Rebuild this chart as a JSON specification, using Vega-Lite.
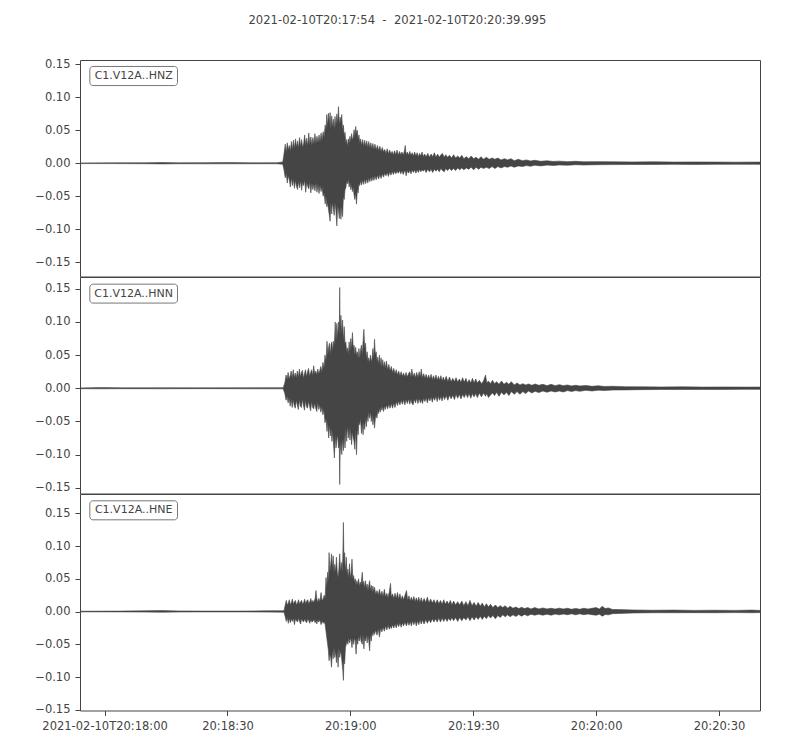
{
  "$schema": "https://vega.github.io/schema/vega-lite/v6.json",
  "padding": {"top": 15, "left": 34, "right": 40, "bottom": 10},
  "bounds": "flush",
  "title": {
    "text": "2021-02-10T20:17:54 \u00a0-\u00a0 2021-02-10T20:20:39.995",
    "font": "DejaVu Sans",
    "fontSize": 11.6,
    "fontWeight": "normal",
    "color": "#444444",
    "anchor": "middle",
    "offset": 31
  },
  "datasets": {
    "hnz": [
      {"s": 0, "hi": 0.0005, "lo": -0.0005}, {"s": 8, "hi": 0.0007, "lo": -0.0005}, {"s": 16, "hi": 0.0008, "lo": -0.0007},
      {"s": 20, "hi": 0.0012, "lo": -0.001}, {"s": 24, "hi": 0.0007, "lo": -0.0007}, {"s": 30, "hi": 0.0009, "lo": -0.0008},
      {"s": 36, "hi": 0.0012, "lo": -0.0008}, {"s": 42, "hi": 0.0007, "lo": -0.0007}, {"s": 48, "hi": 0.0008, "lo": -0.0007},
      {"s": 49.5, "hi": 0.002, "lo": -0.0015}, {"s": 49.8, "hi": 0.014, "lo": -0.01}, {"s": 50.1, "hi": 0.029, "lo": -0.022},
      {"s": 50.35, "hi": 0.016, "lo": -0.015}, {"s": 50.6, "hi": 0.031, "lo": -0.03}, {"s": 50.85, "hi": 0.02, "lo": -0.019},
      {"s": 51.1, "hi": 0.027, "lo": -0.025}, {"s": 51.35, "hi": 0.018, "lo": -0.036}, {"s": 51.6, "hi": 0.033, "lo": -0.022},
      {"s": 51.85, "hi": 0.021, "lo": -0.034}, {"s": 52.1, "hi": 0.035, "lo": -0.024}, {"s": 52.35, "hi": 0.022, "lo": -0.038},
      {"s": 52.6, "hi": 0.037, "lo": -0.026}, {"s": 52.85, "hi": 0.024, "lo": -0.035}, {"s": 53.1, "hi": 0.034, "lo": -0.04},
      {"s": 53.35, "hi": 0.023, "lo": -0.027}, {"s": 53.6, "hi": 0.039, "lo": -0.037}, {"s": 53.85, "hi": 0.025, "lo": -0.026},
      {"s": 54.1, "hi": 0.036, "lo": -0.041}, {"s": 54.35, "hi": 0.024, "lo": -0.028}, {"s": 54.6, "hi": 0.03, "lo": -0.034},
      {"s": 54.85, "hi": 0.043, "lo": -0.025}, {"s": 55.1, "hi": 0.027, "lo": -0.044}, {"s": 55.35, "hi": 0.038, "lo": -0.029},
      {"s": 55.6, "hi": 0.026, "lo": -0.035}, {"s": 55.85, "hi": 0.046, "lo": -0.039}, {"s": 56.1, "hi": 0.028, "lo": -0.028},
      {"s": 56.35, "hi": 0.04, "lo": -0.045}, {"s": 56.6, "hi": 0.027, "lo": -0.03}, {"s": 56.85, "hi": 0.039, "lo": -0.04},
      {"s": 57.1, "hi": 0.029, "lo": -0.031}, {"s": 57.35, "hi": 0.045, "lo": -0.042}, {"s": 57.6, "hi": 0.03, "lo": -0.029},
      {"s": 57.85, "hi": 0.041, "lo": -0.044}, {"s": 58.1, "hi": 0.031, "lo": -0.032}, {"s": 58.35, "hi": 0.043, "lo": -0.046},
      {"s": 58.6, "hi": 0.032, "lo": -0.033}, {"s": 58.85, "hi": 0.046, "lo": -0.043}, {"s": 59.1, "hi": 0.035, "lo": -0.036},
      {"s": 59.35, "hi": 0.048, "lo": -0.05}, {"s": 59.6, "hi": 0.04, "lo": -0.045}, {"s": 59.85, "hi": 0.058, "lo": -0.062},
      {"s": 60.05, "hi": 0.05, "lo": -0.05}, {"s": 60.25, "hi": 0.074, "lo": -0.066}, {"s": 60.45, "hi": 0.055, "lo": -0.06},
      {"s": 60.65, "hi": 0.076, "lo": -0.07}, {"s": 60.85, "hi": 0.06, "lo": -0.078}, {"s": 61.05, "hi": 0.077, "lo": -0.088},
      {"s": 61.25, "hi": 0.052, "lo": -0.06}, {"s": 61.45, "hi": 0.072, "lo": -0.077}, {"s": 61.65, "hi": 0.055, "lo": -0.058},
      {"s": 61.85, "hi": 0.067, "lo": -0.07}, {"s": 62.05, "hi": 0.05, "lo": -0.079}, {"s": 62.25, "hi": 0.071, "lo": -0.06},
      {"s": 62.45, "hi": 0.055, "lo": -0.07}, {"s": 62.7, "hi": 0.075, "lo": -0.095}, {"s": 62.9, "hi": 0.06, "lo": -0.064},
      {"s": 63.1, "hi": 0.086, "lo": -0.072}, {"s": 63.3, "hi": 0.058, "lo": -0.084}, {"s": 63.5, "hi": 0.07, "lo": -0.066},
      {"s": 63.7, "hi": 0.062, "lo": -0.085}, {"s": 63.9, "hi": 0.074, "lo": -0.065}, {"s": 64.1, "hi": 0.05, "lo": -0.081},
      {"s": 64.3, "hi": 0.058, "lo": -0.05}, {"s": 64.5, "hi": 0.04, "lo": -0.055}, {"s": 64.7, "hi": 0.047, "lo": -0.04},
      {"s": 64.9, "hi": 0.03, "lo": -0.037}, {"s": 65.1, "hi": 0.036, "lo": -0.027}, {"s": 65.3, "hi": 0.025, "lo": -0.031},
      {"s": 65.5, "hi": 0.037, "lo": -0.024}, {"s": 65.7, "hi": 0.03, "lo": -0.036}, {"s": 65.9, "hi": 0.041, "lo": -0.028},
      {"s": 66.1, "hi": 0.032, "lo": -0.04}, {"s": 66.3, "hi": 0.045, "lo": -0.033}, {"s": 66.5, "hi": 0.035, "lo": -0.043},
      {"s": 66.7, "hi": 0.04, "lo": -0.036}, {"s": 66.9, "hi": 0.051, "lo": -0.048}, {"s": 67.1, "hi": 0.04, "lo": -0.055},
      {"s": 67.3, "hi": 0.056, "lo": -0.045}, {"s": 67.5, "hi": 0.045, "lo": -0.062}, {"s": 67.7, "hi": 0.05, "lo": -0.04},
      {"s": 67.9, "hi": 0.036, "lo": -0.045}, {"s": 68.1, "hi": 0.043, "lo": -0.03}, {"s": 68.3, "hi": 0.03, "lo": -0.034},
      {"s": 68.5, "hi": 0.037, "lo": -0.026}, {"s": 68.75, "hi": 0.027, "lo": -0.033}, {"s": 69.0, "hi": 0.036, "lo": -0.025},
      {"s": 69.25, "hi": 0.026, "lo": -0.032}, {"s": 69.5, "hi": 0.035, "lo": -0.024}, {"s": 69.75, "hi": 0.025, "lo": -0.031},
      {"s": 70.0, "hi": 0.034, "lo": -0.023}, {"s": 70.25, "hi": 0.024, "lo": -0.03}, {"s": 70.5, "hi": 0.033, "lo": -0.022},
      {"s": 70.75, "hi": 0.023, "lo": -0.028}, {"s": 71.0, "hi": 0.031, "lo": -0.021}, {"s": 71.25, "hi": 0.022, "lo": -0.027},
      {"s": 71.5, "hi": 0.03, "lo": -0.02}, {"s": 71.75, "hi": 0.021, "lo": -0.026}, {"s": 72.0, "hi": 0.029, "lo": -0.019},
      {"s": 72.3, "hi": 0.02, "lo": -0.025}, {"s": 72.6, "hi": 0.027, "lo": -0.018}, {"s": 72.9, "hi": 0.019, "lo": -0.024},
      {"s": 73.2, "hi": 0.026, "lo": -0.017}, {"s": 73.5, "hi": 0.018, "lo": -0.023}, {"s": 73.8, "hi": 0.024, "lo": -0.016},
      {"s": 74.1, "hi": 0.017, "lo": -0.021}, {"s": 74.4, "hi": 0.021, "lo": -0.015}, {"s": 74.7, "hi": 0.015, "lo": -0.019},
      {"s": 75.0, "hi": 0.022, "lo": -0.014}, {"s": 75.3, "hi": 0.014, "lo": -0.02}, {"s": 75.6, "hi": 0.02, "lo": -0.013},
      {"s": 75.9, "hi": 0.014, "lo": -0.018}, {"s": 76.2, "hi": 0.018, "lo": -0.012}, {"s": 76.5, "hi": 0.013, "lo": -0.017},
      {"s": 76.8, "hi": 0.019, "lo": -0.012}, {"s": 77.1, "hi": 0.013, "lo": -0.016}, {"s": 77.4, "hi": 0.02, "lo": -0.012},
      {"s": 77.7, "hi": 0.012, "lo": -0.015}, {"s": 78.0, "hi": 0.018, "lo": -0.011}, {"s": 78.3, "hi": 0.013, "lo": -0.016},
      {"s": 78.6, "hi": 0.017, "lo": -0.011}, {"s": 78.9, "hi": 0.012, "lo": -0.017}, {"s": 79.2, "hi": 0.019, "lo": -0.012},
      {"s": 79.4, "hi": 0.027, "lo": -0.011}, {"s": 79.6, "hi": 0.013, "lo": -0.019}, {"s": 79.9, "hi": 0.017, "lo": -0.011},
      {"s": 80.2, "hi": 0.012, "lo": -0.015}, {"s": 80.5, "hi": 0.018, "lo": -0.011}, {"s": 80.8, "hi": 0.012, "lo": -0.016},
      {"s": 81.1, "hi": 0.016, "lo": -0.01}, {"s": 81.4, "hi": 0.011, "lo": -0.014}, {"s": 81.7, "hi": 0.017, "lo": -0.01},
      {"s": 82.0, "hi": 0.011, "lo": -0.015}, {"s": 82.3, "hi": 0.016, "lo": -0.01}, {"s": 82.6, "hi": 0.01, "lo": -0.014},
      {"s": 82.9, "hi": 0.015, "lo": -0.009}, {"s": 83.2, "hi": 0.011, "lo": -0.013}, {"s": 83.5, "hi": 0.017, "lo": -0.01},
      {"s": 83.8, "hi": 0.01, "lo": -0.012}, {"s": 84.1, "hi": 0.014, "lo": -0.009}, {"s": 84.5, "hi": 0.01, "lo": -0.014},
      {"s": 84.9, "hi": 0.015, "lo": -0.009}, {"s": 85.3, "hi": 0.009, "lo": -0.013}, {"s": 85.7, "hi": 0.014, "lo": -0.009},
      {"s": 86.1, "hi": 0.01, "lo": -0.014}, {"s": 86.5, "hi": 0.016, "lo": -0.009}, {"s": 86.9, "hi": 0.009, "lo": -0.012},
      {"s": 87.3, "hi": 0.014, "lo": -0.009}, {"s": 87.7, "hi": 0.009, "lo": -0.013}, {"s": 88.1, "hi": 0.013, "lo": -0.008},
      {"s": 88.5, "hi": 0.015, "lo": -0.011}, {"s": 88.9, "hi": 0.009, "lo": -0.013}, {"s": 89.3, "hi": 0.013, "lo": -0.008},
      {"s": 89.7, "hi": 0.009, "lo": -0.011}, {"s": 90.2, "hi": 0.012, "lo": -0.008}, {"s": 90.7, "hi": 0.008, "lo": -0.011},
      {"s": 91.2, "hi": 0.013, "lo": -0.008}, {"s": 91.7, "hi": 0.008, "lo": -0.011}, {"s": 92.2, "hi": 0.011, "lo": -0.007},
      {"s": 92.7, "hi": 0.008, "lo": -0.01}, {"s": 93.2, "hi": 0.012, "lo": -0.007}, {"s": 93.7, "hi": 0.007, "lo": -0.01},
      {"s": 94.3, "hi": 0.01, "lo": -0.007}, {"s": 94.9, "hi": 0.007, "lo": -0.009}, {"s": 95.5, "hi": 0.011, "lo": -0.006},
      {"s": 96.1, "hi": 0.007, "lo": -0.01}, {"s": 96.7, "hi": 0.009, "lo": -0.006}, {"s": 97.3, "hi": 0.006, "lo": -0.009},
      {"s": 97.9, "hi": 0.01, "lo": -0.006}, {"s": 98.5, "hi": 0.006, "lo": -0.008}, {"s": 99.2, "hi": 0.009, "lo": -0.006},
      {"s": 99.9, "hi": 0.006, "lo": -0.008}, {"s": 100.6, "hi": 0.008, "lo": -0.005}, {"s": 101.3, "hi": 0.006, "lo": -0.008},
      {"s": 102, "hi": 0.008, "lo": -0.005}, {"s": 102.8, "hi": 0.005, "lo": -0.007}, {"s": 103.6, "hi": 0.007, "lo": -0.005},
      {"s": 104.4, "hi": 0.005, "lo": -0.006}, {"s": 105.2, "hi": 0.007, "lo": -0.004}, {"s": 106, "hi": 0.004, "lo": -0.006},
      {"s": 107, "hi": 0.006, "lo": -0.004}, {"s": 108, "hi": 0.004, "lo": -0.005}, {"s": 109, "hi": 0.005, "lo": -0.0035},
      {"s": 110, "hi": 0.0035, "lo": -0.0045}, {"s": 111, "hi": 0.0045, "lo": -0.003}, {"s": 112.5, "hi": 0.003, "lo": -0.004},
      {"s": 114, "hi": 0.0038, "lo": -0.0028}, {"s": 115.5, "hi": 0.0028, "lo": -0.0034}, {"s": 117, "hi": 0.0032, "lo": -0.0025},
      {"s": 119, "hi": 0.0025, "lo": -0.003}, {"s": 121, "hi": 0.003, "lo": -0.0022}, {"s": 123, "hi": 0.0022, "lo": -0.0026},
      {"s": 126, "hi": 0.0025, "lo": -0.0022}, {"s": 130, "hi": 0.0022, "lo": -0.002}, {"s": 135, "hi": 0.002, "lo": -0.0018},
      {"s": 140, "hi": 0.0022, "lo": -0.0018}, {"s": 145, "hi": 0.0018, "lo": -0.0016}, {"s": 150, "hi": 0.002, "lo": -0.0018},
      {"s": 155, "hi": 0.0018, "lo": -0.0016}, {"s": 160, "hi": 0.0017, "lo": -0.0015}, {"s": 166, "hi": 0.0018, "lo": -0.0016}
    ],
    "hnn": [
      {"s": 0, "hi": 0.0005, "lo": -0.0005}, {"s": 5, "hi": 0.0012, "lo": -0.0008}, {"s": 10, "hi": 0.0007, "lo": -0.0006},
      {"s": 20, "hi": 0.0008, "lo": -0.0007}, {"s": 30, "hi": 0.0007, "lo": -0.0005}, {"s": 40, "hi": 0.0008, "lo": -0.0007},
      {"s": 49.6, "hi": 0.001, "lo": -0.0008}, {"s": 50.0, "hi": 0.008, "lo": -0.008}, {"s": 50.3, "hi": 0.02, "lo": -0.018},
      {"s": 50.55, "hi": 0.013, "lo": -0.012}, {"s": 50.8, "hi": 0.024, "lo": -0.022}, {"s": 51.05, "hi": 0.014, "lo": -0.014},
      {"s": 51.3, "hi": 0.019, "lo": -0.027}, {"s": 51.55, "hi": 0.026, "lo": -0.016}, {"s": 51.8, "hi": 0.015, "lo": -0.029},
      {"s": 52.05, "hi": 0.028, "lo": -0.017}, {"s": 52.3, "hi": 0.016, "lo": -0.026}, {"s": 52.55, "hi": 0.023, "lo": -0.03},
      {"s": 52.8, "hi": 0.015, "lo": -0.018}, {"s": 53.05, "hi": 0.026, "lo": -0.025}, {"s": 53.3, "hi": 0.016, "lo": -0.032},
      {"s": 53.55, "hi": 0.029, "lo": -0.017}, {"s": 53.8, "hi": 0.017, "lo": -0.027}, {"s": 54.05, "hi": 0.024, "lo": -0.029},
      {"s": 54.3, "hi": 0.027, "lo": -0.016}, {"s": 54.55, "hi": 0.015, "lo": -0.026}, {"s": 54.8, "hi": 0.022, "lo": -0.033},
      {"s": 55.05, "hi": 0.028, "lo": -0.018}, {"s": 55.3, "hi": 0.017, "lo": -0.028}, {"s": 55.55, "hi": 0.025, "lo": -0.03},
      {"s": 55.8, "hi": 0.03, "lo": -0.019}, {"s": 56.05, "hi": 0.018, "lo": -0.027}, {"s": 56.3, "hi": 0.024, "lo": -0.034},
      {"s": 56.55, "hi": 0.028, "lo": -0.02}, {"s": 56.8, "hi": 0.019, "lo": -0.029}, {"s": 57.05, "hi": 0.034, "lo": -0.031},
      {"s": 57.3, "hi": 0.021, "lo": -0.022}, {"s": 57.55, "hi": 0.026, "lo": -0.03}, {"s": 57.8, "hi": 0.02, "lo": -0.035},
      {"s": 58.05, "hi": 0.029, "lo": -0.021}, {"s": 58.3, "hi": 0.022, "lo": -0.032}, {"s": 58.55, "hi": 0.027, "lo": -0.025},
      {"s": 58.8, "hi": 0.033, "lo": -0.036}, {"s": 59.05, "hi": 0.024, "lo": -0.028}, {"s": 59.3, "hi": 0.039, "lo": -0.04},
      {"s": 59.55, "hi": 0.03, "lo": -0.032}, {"s": 59.8, "hi": 0.05, "lo": -0.052}, {"s": 60.05, "hi": 0.04, "lo": -0.045},
      {"s": 60.3, "hi": 0.071, "lo": -0.065}, {"s": 60.5, "hi": 0.05, "lo": -0.05}, {"s": 60.7, "hi": 0.062, "lo": -0.075},
      {"s": 60.9, "hi": 0.068, "lo": -0.055}, {"s": 61.1, "hi": 0.05, "lo": -0.072}, {"s": 61.3, "hi": 0.066, "lo": -0.06},
      {"s": 61.5, "hi": 0.07, "lo": -0.08}, {"s": 61.7, "hi": 0.055, "lo": -0.065}, {"s": 61.9, "hi": 0.071, "lo": -0.086},
      {"s": 62.1, "hi": 0.065, "lo": -0.105}, {"s": 62.3, "hi": 0.1, "lo": -0.07}, {"s": 62.5, "hi": 0.07, "lo": -0.09},
      {"s": 62.7, "hi": 0.098, "lo": -0.078}, {"s": 62.9, "hi": 0.075, "lo": -0.07}, {"s": 63.1, "hi": 0.1, "lo": -0.09},
      {"s": 63.3, "hi": 0.08, "lo": -0.085}, {"s": 63.4, "hi": 0.152, "lo": -0.145}, {"s": 63.5, "hi": 0.09, "lo": -0.1},
      {"s": 63.7, "hi": 0.11, "lo": -0.08}, {"s": 63.9, "hi": 0.08, "lo": -0.1}, {"s": 64.1, "hi": 0.103, "lo": -0.075},
      {"s": 64.3, "hi": 0.07, "lo": -0.094}, {"s": 64.5, "hi": 0.093, "lo": -0.07}, {"s": 64.7, "hi": 0.065, "lo": -0.09},
      {"s": 64.9, "hi": 0.07, "lo": -0.06}, {"s": 65.1, "hi": 0.055, "lo": -0.08}, {"s": 65.3, "hi": 0.061, "lo": -0.055},
      {"s": 65.5, "hi": 0.05, "lo": -0.075}, {"s": 65.7, "hi": 0.07, "lo": -0.06}, {"s": 65.9, "hi": 0.055, "lo": -0.078},
      {"s": 66.1, "hi": 0.075, "lo": -0.06}, {"s": 66.3, "hi": 0.06, "lo": -0.085}, {"s": 66.5, "hi": 0.084, "lo": -0.065},
      {"s": 66.7, "hi": 0.06, "lo": -0.075}, {"s": 66.9, "hi": 0.065, "lo": -0.08}, {"s": 67.1, "hi": 0.05, "lo": -0.092},
      {"s": 67.3, "hi": 0.062, "lo": -0.06}, {"s": 67.5, "hi": 0.05, "lo": -0.1}, {"s": 67.7, "hi": 0.055, "lo": -0.06},
      {"s": 67.9, "hi": 0.045, "lo": -0.07}, {"s": 68.1, "hi": 0.06, "lo": -0.05}, {"s": 68.3, "hi": 0.045, "lo": -0.055},
      {"s": 68.5, "hi": 0.058, "lo": -0.045}, {"s": 68.7, "hi": 0.065, "lo": -0.068}, {"s": 68.9, "hi": 0.05, "lo": -0.052},
      {"s": 69.1, "hi": 0.07, "lo": -0.07}, {"s": 69.3, "hi": 0.089, "lo": -0.05}, {"s": 69.5, "hi": 0.06, "lo": -0.062},
      {"s": 69.7, "hi": 0.068, "lo": -0.045}, {"s": 69.9, "hi": 0.045, "lo": -0.058}, {"s": 70.1, "hi": 0.055, "lo": -0.04},
      {"s": 70.3, "hi": 0.04, "lo": -0.05}, {"s": 70.5, "hi": 0.046, "lo": -0.035}, {"s": 70.7, "hi": 0.038, "lo": -0.045},
      {"s": 70.9, "hi": 0.05, "lo": -0.035}, {"s": 71.1, "hi": 0.04, "lo": -0.05}, {"s": 71.3, "hi": 0.045, "lo": -0.04},
      {"s": 71.5, "hi": 0.06, "lo": -0.055}, {"s": 71.7, "hi": 0.045, "lo": -0.042}, {"s": 71.9, "hi": 0.074, "lo": -0.06},
      {"s": 72.1, "hi": 0.05, "lo": -0.045}, {"s": 72.3, "hi": 0.055, "lo": -0.04}, {"s": 72.5, "hi": 0.04, "lo": -0.045},
      {"s": 72.7, "hi": 0.047, "lo": -0.033}, {"s": 72.9, "hi": 0.035, "lo": -0.038}, {"s": 73.1, "hi": 0.05, "lo": -0.03},
      {"s": 73.3, "hi": 0.034, "lo": -0.036}, {"s": 73.5, "hi": 0.046, "lo": -0.028}, {"s": 73.7, "hi": 0.032, "lo": -0.033},
      {"s": 73.9, "hi": 0.043, "lo": -0.027}, {"s": 74.1, "hi": 0.031, "lo": -0.035}, {"s": 74.3, "hi": 0.04, "lo": -0.026},
      {"s": 74.5, "hi": 0.03, "lo": -0.032}, {"s": 74.8, "hi": 0.041, "lo": -0.025}, {"s": 75.1, "hi": 0.028, "lo": -0.031},
      {"s": 75.4, "hi": 0.036, "lo": -0.024}, {"s": 75.7, "hi": 0.026, "lo": -0.03}, {"s": 76.0, "hi": 0.033, "lo": -0.023},
      {"s": 76.3, "hi": 0.024, "lo": -0.03}, {"s": 76.6, "hi": 0.03, "lo": -0.022}, {"s": 76.9, "hi": 0.022, "lo": -0.029},
      {"s": 77.2, "hi": 0.028, "lo": -0.02}, {"s": 77.5, "hi": 0.02, "lo": -0.026}, {"s": 77.8, "hi": 0.026, "lo": -0.019},
      {"s": 78.1, "hi": 0.019, "lo": -0.025}, {"s": 78.4, "hi": 0.025, "lo": -0.018}, {"s": 78.7, "hi": 0.018, "lo": -0.024},
      {"s": 79.0, "hi": 0.023, "lo": -0.017}, {"s": 79.3, "hi": 0.017, "lo": -0.025}, {"s": 79.6, "hi": 0.024, "lo": -0.017},
      {"s": 79.9, "hi": 0.017, "lo": -0.023}, {"s": 80.2, "hi": 0.022, "lo": -0.016}, {"s": 80.5, "hi": 0.025, "lo": -0.024},
      {"s": 80.8, "hi": 0.017, "lo": -0.016}, {"s": 81.0, "hi": 0.029, "lo": -0.022}, {"s": 81.3, "hi": 0.017, "lo": -0.025},
      {"s": 81.6, "hi": 0.023, "lo": -0.016}, {"s": 81.9, "hi": 0.016, "lo": -0.022}, {"s": 82.2, "hi": 0.024, "lo": -0.015},
      {"s": 82.5, "hi": 0.016, "lo": -0.023}, {"s": 82.8, "hi": 0.025, "lo": -0.015}, {"s": 83.1, "hi": 0.017, "lo": -0.022},
      {"s": 83.3, "hi": 0.029, "lo": -0.016}, {"s": 83.6, "hi": 0.016, "lo": -0.023}, {"s": 83.9, "hi": 0.022, "lo": -0.015},
      {"s": 84.2, "hi": 0.015, "lo": -0.02}, {"s": 84.5, "hi": 0.021, "lo": -0.014}, {"s": 84.8, "hi": 0.014, "lo": -0.022},
      {"s": 85.1, "hi": 0.02, "lo": -0.014}, {"s": 85.4, "hi": 0.014, "lo": -0.019}, {"s": 85.7, "hi": 0.021, "lo": -0.013},
      {"s": 86.0, "hi": 0.013, "lo": -0.021}, {"s": 86.3, "hi": 0.019, "lo": -0.013}, {"s": 86.6, "hi": 0.013, "lo": -0.018},
      {"s": 86.9, "hi": 0.02, "lo": -0.012}, {"s": 87.2, "hi": 0.012, "lo": -0.02}, {"s": 87.5, "hi": 0.018, "lo": -0.012},
      {"s": 87.8, "hi": 0.012, "lo": -0.018}, {"s": 88.1, "hi": 0.019, "lo": -0.012}, {"s": 88.4, "hi": 0.011, "lo": -0.019},
      {"s": 88.7, "hi": 0.017, "lo": -0.011}, {"s": 89.0, "hi": 0.011, "lo": -0.017}, {"s": 89.4, "hi": 0.018, "lo": -0.011},
      {"s": 89.8, "hi": 0.01, "lo": -0.018}, {"s": 90.2, "hi": 0.017, "lo": -0.01}, {"s": 90.6, "hi": 0.01, "lo": -0.016},
      {"s": 91.0, "hi": 0.015, "lo": -0.01}, {"s": 91.4, "hi": 0.01, "lo": -0.017}, {"s": 91.8, "hi": 0.016, "lo": -0.009},
      {"s": 92.2, "hi": 0.009, "lo": -0.015}, {"s": 92.6, "hi": 0.014, "lo": -0.009}, {"s": 93.0, "hi": 0.009, "lo": -0.016},
      {"s": 93.4, "hi": 0.016, "lo": -0.009}, {"s": 93.8, "hi": 0.009, "lo": -0.014}, {"s": 94.2, "hi": 0.015, "lo": -0.008},
      {"s": 94.6, "hi": 0.008, "lo": -0.014}, {"s": 95.0, "hi": 0.013, "lo": -0.008}, {"s": 95.4, "hi": 0.008, "lo": -0.015},
      {"s": 95.8, "hi": 0.015, "lo": -0.008}, {"s": 96.2, "hi": 0.008, "lo": -0.013}, {"s": 96.6, "hi": 0.014, "lo": -0.008},
      {"s": 97.0, "hi": 0.008, "lo": -0.014}, {"s": 97.5, "hi": 0.012, "lo": -0.007}, {"s": 98.0, "hi": 0.007, "lo": -0.013},
      {"s": 98.5, "hi": 0.011, "lo": -0.007}, {"s": 99.0, "hi": 0.02, "lo": -0.012}, {"s": 99.3, "hi": 0.008, "lo": -0.008},
      {"s": 99.7, "hi": 0.011, "lo": -0.014}, {"s": 100.2, "hi": 0.007, "lo": -0.01}, {"s": 100.7, "hi": 0.012, "lo": -0.007},
      {"s": 101.2, "hi": 0.007, "lo": -0.011}, {"s": 101.7, "hi": 0.01, "lo": -0.006}, {"s": 102.3, "hi": 0.006, "lo": -0.012},
      {"s": 102.9, "hi": 0.011, "lo": -0.006}, {"s": 103.5, "hi": 0.006, "lo": -0.01}, {"s": 104.1, "hi": 0.009, "lo": -0.006},
      {"s": 104.7, "hi": 0.006, "lo": -0.011}, {"s": 105.3, "hi": 0.01, "lo": -0.005}, {"s": 106, "hi": 0.005, "lo": -0.009},
      {"s": 106.7, "hi": 0.008, "lo": -0.005}, {"s": 107.4, "hi": 0.005, "lo": -0.009}, {"s": 108.1, "hi": 0.007, "lo": -0.005},
      {"s": 108.8, "hi": 0.005, "lo": -0.008}, {"s": 109.5, "hi": 0.0065, "lo": -0.004}, {"s": 110.3, "hi": 0.0045, "lo": -0.007},
      {"s": 111.1, "hi": 0.0065, "lo": -0.0045}, {"s": 112, "hi": 0.0045, "lo": -0.0065}, {"s": 113, "hi": 0.006, "lo": -0.004},
      {"s": 114, "hi": 0.004, "lo": -0.006}, {"s": 115, "hi": 0.006, "lo": -0.004}, {"s": 116, "hi": 0.004, "lo": -0.0055},
      {"s": 117, "hi": 0.0055, "lo": -0.004}, {"s": 118, "hi": 0.004, "lo": -0.0055}, {"s": 119, "hi": 0.005, "lo": -0.0035},
      {"s": 120, "hi": 0.0035, "lo": -0.0048}, {"s": 121, "hi": 0.0046, "lo": -0.0035}, {"s": 122, "hi": 0.0035, "lo": -0.0045},
      {"s": 123.5, "hi": 0.0042, "lo": -0.003}, {"s": 125, "hi": 0.003, "lo": -0.004}, {"s": 126.5, "hi": 0.0038, "lo": -0.0028},
      {"s": 128, "hi": 0.0028, "lo": -0.0034}, {"s": 130, "hi": 0.003, "lo": -0.0026}, {"s": 133, "hi": 0.0024, "lo": -0.0024},
      {"s": 137, "hi": 0.0022, "lo": -0.002}, {"s": 142, "hi": 0.002, "lo": -0.0018}, {"s": 147, "hi": 0.0022, "lo": -0.0018},
      {"s": 152, "hi": 0.0018, "lo": -0.0017}, {"s": 157, "hi": 0.002, "lo": -0.0017}, {"s": 162, "hi": 0.0018, "lo": -0.0016},
      {"s": 166, "hi": 0.0018, "lo": -0.0016}
    ],
    "hne": [
      {"s": 0, "hi": 0.0005, "lo": -0.0005}, {"s": 10, "hi": 0.0007, "lo": -0.0005}, {"s": 16, "hi": 0.0012, "lo": -0.0008},
      {"s": 20, "hi": 0.0015, "lo": -0.001}, {"s": 24, "hi": 0.0009, "lo": -0.0007}, {"s": 30, "hi": 0.0007, "lo": -0.0005},
      {"s": 40, "hi": 0.0007, "lo": -0.0005}, {"s": 46, "hi": 0.0012, "lo": -0.0008}, {"s": 49.8, "hi": 0.0012, "lo": -0.001},
      {"s": 50.1, "hi": 0.01, "lo": -0.008}, {"s": 50.35, "hi": 0.017, "lo": -0.015}, {"s": 50.6, "hi": 0.01, "lo": -0.009},
      {"s": 50.85, "hi": 0.013, "lo": -0.018}, {"s": 51.1, "hi": 0.018, "lo": -0.01}, {"s": 51.35, "hi": 0.01, "lo": -0.017},
      {"s": 51.6, "hi": 0.014, "lo": -0.011}, {"s": 51.85, "hi": 0.019, "lo": -0.015}, {"s": 52.1, "hi": 0.011, "lo": -0.01},
      {"s": 52.35, "hi": 0.015, "lo": -0.02}, {"s": 52.6, "hi": 0.017, "lo": -0.011}, {"s": 52.85, "hi": 0.01, "lo": -0.014},
      {"s": 53.1, "hi": 0.013, "lo": -0.016}, {"s": 53.35, "hi": 0.018, "lo": -0.01}, {"s": 53.6, "hi": 0.011, "lo": -0.015},
      {"s": 53.85, "hi": 0.015, "lo": -0.019}, {"s": 54.1, "hi": 0.017, "lo": -0.011}, {"s": 54.35, "hi": 0.011, "lo": -0.014},
      {"s": 54.6, "hi": 0.014, "lo": -0.016}, {"s": 54.85, "hi": 0.019, "lo": -0.011}, {"s": 55.1, "hi": 0.012, "lo": -0.015},
      {"s": 55.35, "hi": 0.016, "lo": -0.017}, {"s": 55.6, "hi": 0.018, "lo": -0.011}, {"s": 55.85, "hi": 0.012, "lo": -0.014},
      {"s": 56.1, "hi": 0.015, "lo": -0.018}, {"s": 56.35, "hi": 0.02, "lo": -0.012}, {"s": 56.6, "hi": 0.013, "lo": -0.016},
      {"s": 56.85, "hi": 0.017, "lo": -0.015}, {"s": 57.1, "hi": 0.014, "lo": -0.012}, {"s": 57.4, "hi": 0.02, "lo": -0.017},
      {"s": 57.6, "hi": 0.032, "lo": -0.013}, {"s": 57.8, "hi": 0.02, "lo": -0.019}, {"s": 58.05, "hi": 0.014, "lo": -0.013},
      {"s": 58.3, "hi": 0.02, "lo": -0.016}, {"s": 58.55, "hi": 0.015, "lo": -0.012}, {"s": 58.85, "hi": 0.029, "lo": -0.02},
      {"s": 59.1, "hi": 0.016, "lo": -0.014}, {"s": 59.35, "hi": 0.019, "lo": -0.018}, {"s": 59.6, "hi": 0.025, "lo": -0.015},
      {"s": 59.85, "hi": 0.02, "lo": -0.02}, {"s": 60.05, "hi": 0.052, "lo": -0.03}, {"s": 60.25, "hi": 0.035, "lo": -0.04},
      {"s": 60.45, "hi": 0.06, "lo": -0.05}, {"s": 60.65, "hi": 0.045, "lo": -0.06}, {"s": 60.8, "hi": 0.09, "lo": -0.075},
      {"s": 61.0, "hi": 0.06, "lo": -0.065}, {"s": 61.2, "hi": 0.072, "lo": -0.07}, {"s": 61.4, "hi": 0.088, "lo": -0.085},
      {"s": 61.6, "hi": 0.065, "lo": -0.06}, {"s": 61.8, "hi": 0.085, "lo": -0.072}, {"s": 62.0, "hi": 0.06, "lo": -0.055},
      {"s": 62.2, "hi": 0.072, "lo": -0.07}, {"s": 62.4, "hi": 0.06, "lo": -0.06}, {"s": 62.6, "hi": 0.083, "lo": -0.078},
      {"s": 62.8, "hi": 0.06, "lo": -0.06}, {"s": 63.0, "hi": 0.052, "lo": -0.085}, {"s": 63.2, "hi": 0.065, "lo": -0.055},
      {"s": 63.4, "hi": 0.088, "lo": -0.07}, {"s": 63.6, "hi": 0.06, "lo": -0.06}, {"s": 63.8, "hi": 0.075, "lo": -0.067},
      {"s": 64.0, "hi": 0.06, "lo": -0.08}, {"s": 64.15, "hi": 0.08, "lo": -0.09}, {"s": 64.3, "hi": 0.136, "lo": -0.105},
      {"s": 64.45, "hi": 0.07, "lo": -0.07}, {"s": 64.6, "hi": 0.09, "lo": -0.08}, {"s": 64.8, "hi": 0.06, "lo": -0.055},
      {"s": 65.0, "hi": 0.083, "lo": -0.05}, {"s": 65.2, "hi": 0.055, "lo": -0.045}, {"s": 65.4, "hi": 0.065, "lo": -0.05},
      {"s": 65.6, "hi": 0.05, "lo": -0.04}, {"s": 65.8, "hi": 0.073, "lo": -0.048}, {"s": 66.0, "hi": 0.05, "lo": -0.04},
      {"s": 66.2, "hi": 0.06, "lo": -0.045}, {"s": 66.4, "hi": 0.08, "lo": -0.055}, {"s": 66.6, "hi": 0.05, "lo": -0.04},
      {"s": 66.8, "hi": 0.055, "lo": -0.05}, {"s": 67.0, "hi": 0.045, "lo": -0.04}, {"s": 67.2, "hi": 0.05, "lo": -0.045},
      {"s": 67.4, "hi": 0.04, "lo": -0.065}, {"s": 67.6, "hi": 0.047, "lo": -0.04}, {"s": 67.8, "hi": 0.04, "lo": -0.05},
      {"s": 68.0, "hi": 0.05, "lo": -0.038}, {"s": 68.2, "hi": 0.038, "lo": -0.045}, {"s": 68.4, "hi": 0.045, "lo": -0.035},
      {"s": 68.6, "hi": 0.04, "lo": -0.045}, {"s": 68.9, "hi": 0.06, "lo": -0.05}, {"s": 69.1, "hi": 0.04, "lo": -0.035},
      {"s": 69.3, "hi": 0.046, "lo": -0.057}, {"s": 69.5, "hi": 0.035, "lo": -0.04}, {"s": 69.7, "hi": 0.047, "lo": -0.045},
      {"s": 69.9, "hi": 0.035, "lo": -0.035}, {"s": 70.1, "hi": 0.042, "lo": -0.048}, {"s": 70.3, "hi": 0.032, "lo": -0.036},
      {"s": 70.5, "hi": 0.04, "lo": -0.045}, {"s": 70.7, "hi": 0.047, "lo": -0.06}, {"s": 70.9, "hi": 0.032, "lo": -0.035},
      {"s": 71.1, "hi": 0.04, "lo": -0.045}, {"s": 71.3, "hi": 0.03, "lo": -0.032}, {"s": 71.5, "hi": 0.039, "lo": -0.037},
      {"s": 71.7, "hi": 0.03, "lo": -0.03}, {"s": 71.9, "hi": 0.037, "lo": -0.035}, {"s": 72.2, "hi": 0.026, "lo": -0.028},
      {"s": 72.5, "hi": 0.032, "lo": -0.036}, {"s": 72.8, "hi": 0.025, "lo": -0.026}, {"s": 73.1, "hi": 0.034, "lo": -0.039},
      {"s": 73.4, "hi": 0.024, "lo": -0.025}, {"s": 73.7, "hi": 0.031, "lo": -0.031}, {"s": 74.0, "hi": 0.023, "lo": -0.024},
      {"s": 74.3, "hi": 0.034, "lo": -0.03}, {"s": 74.6, "hi": 0.022, "lo": -0.022}, {"s": 74.9, "hi": 0.028, "lo": -0.028},
      {"s": 75.2, "hi": 0.021, "lo": -0.021}, {"s": 75.5, "hi": 0.03, "lo": -0.027}, {"s": 75.8, "hi": 0.043, "lo": -0.022},
      {"s": 76.0, "hi": 0.022, "lo": -0.026}, {"s": 76.3, "hi": 0.027, "lo": -0.02}, {"s": 76.6, "hi": 0.02, "lo": -0.025},
      {"s": 76.9, "hi": 0.028, "lo": -0.019}, {"s": 77.2, "hi": 0.02, "lo": -0.025}, {"s": 77.5, "hi": 0.029, "lo": -0.018},
      {"s": 77.8, "hi": 0.019, "lo": -0.023}, {"s": 78.1, "hi": 0.027, "lo": -0.017}, {"s": 78.4, "hi": 0.018, "lo": -0.024},
      {"s": 78.7, "hi": 0.024, "lo": -0.017}, {"s": 79.0, "hi": 0.018, "lo": -0.022}, {"s": 79.3, "hi": 0.024, "lo": -0.016},
      {"s": 79.7, "hi": 0.032, "lo": -0.022}, {"s": 80.0, "hi": 0.017, "lo": -0.015}, {"s": 80.3, "hi": 0.024, "lo": -0.021},
      {"s": 80.6, "hi": 0.016, "lo": -0.015}, {"s": 80.9, "hi": 0.022, "lo": -0.022}, {"s": 81.2, "hi": 0.016, "lo": -0.014},
      {"s": 81.5, "hi": 0.023, "lo": -0.02}, {"s": 81.8, "hi": 0.015, "lo": -0.014}, {"s": 82.1, "hi": 0.021, "lo": -0.022},
      {"s": 82.4, "hi": 0.015, "lo": -0.014}, {"s": 82.7, "hi": 0.022, "lo": -0.02}, {"s": 83.0, "hi": 0.014, "lo": -0.013},
      {"s": 83.3, "hi": 0.021, "lo": -0.019}, {"s": 83.6, "hi": 0.014, "lo": -0.013}, {"s": 84.0, "hi": 0.02, "lo": -0.019},
      {"s": 84.4, "hi": 0.014, "lo": -0.012}, {"s": 84.8, "hi": 0.022, "lo": -0.018}, {"s": 85.2, "hi": 0.013, "lo": -0.012},
      {"s": 85.6, "hi": 0.019, "lo": -0.017}, {"s": 86.0, "hi": 0.013, "lo": -0.011}, {"s": 86.4, "hi": 0.018, "lo": -0.016},
      {"s": 86.8, "hi": 0.012, "lo": -0.011}, {"s": 87.2, "hi": 0.018, "lo": -0.016}, {"s": 87.6, "hi": 0.012, "lo": -0.01},
      {"s": 88.0, "hi": 0.017, "lo": -0.016}, {"s": 88.4, "hi": 0.011, "lo": -0.01}, {"s": 88.8, "hi": 0.018, "lo": -0.015},
      {"s": 89.2, "hi": 0.011, "lo": -0.01}, {"s": 89.6, "hi": 0.016, "lo": -0.015}, {"s": 90.0, "hi": 0.011, "lo": -0.01},
      {"s": 90.4, "hi": 0.017, "lo": -0.014}, {"s": 90.8, "hi": 0.01, "lo": -0.009}, {"s": 91.2, "hi": 0.016, "lo": -0.014},
      {"s": 91.7, "hi": 0.01, "lo": -0.009}, {"s": 92.2, "hi": 0.015, "lo": -0.015}, {"s": 92.7, "hi": 0.01, "lo": -0.009},
      {"s": 93.2, "hi": 0.016, "lo": -0.014}, {"s": 93.7, "hi": 0.009, "lo": -0.009}, {"s": 94.2, "hi": 0.015, "lo": -0.013},
      {"s": 94.7, "hi": 0.009, "lo": -0.008}, {"s": 95.2, "hi": 0.017, "lo": -0.014}, {"s": 95.7, "hi": 0.009, "lo": -0.008},
      {"s": 96.2, "hi": 0.014, "lo": -0.013}, {"s": 96.7, "hi": 0.008, "lo": -0.008}, {"s": 97.2, "hi": 0.014, "lo": -0.012},
      {"s": 97.7, "hi": 0.008, "lo": -0.007}, {"s": 98.2, "hi": 0.013, "lo": -0.012}, {"s": 98.7, "hi": 0.007, "lo": -0.007},
      {"s": 99.2, "hi": 0.012, "lo": -0.011}, {"s": 99.7, "hi": 0.007, "lo": -0.006}, {"s": 100.2, "hi": 0.011, "lo": -0.01},
      {"s": 100.8, "hi": 0.006, "lo": -0.006}, {"s": 101.4, "hi": 0.01, "lo": -0.011}, {"s": 102, "hi": 0.006, "lo": -0.006},
      {"s": 102.6, "hi": 0.009, "lo": -0.009}, {"s": 103.2, "hi": 0.006, "lo": -0.005}, {"s": 103.8, "hi": 0.009, "lo": -0.008},
      {"s": 104.4, "hi": 0.005, "lo": -0.005}, {"s": 105, "hi": 0.008, "lo": -0.008}, {"s": 105.7, "hi": 0.005, "lo": -0.005},
      {"s": 106.4, "hi": 0.007, "lo": -0.0075}, {"s": 107.1, "hi": 0.0045, "lo": -0.0045}, {"s": 107.8, "hi": 0.0065, "lo": -0.007},
      {"s": 108.5, "hi": 0.0045, "lo": -0.0045}, {"s": 109.3, "hi": 0.006, "lo": -0.0065}, {"s": 110.1, "hi": 0.004, "lo": -0.004},
      {"s": 111, "hi": 0.006, "lo": -0.0055}, {"s": 112, "hi": 0.004, "lo": -0.004}, {"s": 113, "hi": 0.0055, "lo": -0.0055},
      {"s": 114, "hi": 0.004, "lo": -0.004}, {"s": 115, "hi": 0.005, "lo": -0.0055}, {"s": 116, "hi": 0.0038, "lo": -0.0038},
      {"s": 117, "hi": 0.0052, "lo": -0.005}, {"s": 118, "hi": 0.0038, "lo": -0.0038}, {"s": 119, "hi": 0.005, "lo": -0.0048},
      {"s": 120, "hi": 0.0035, "lo": -0.0035}, {"s": 121, "hi": 0.0048, "lo": -0.005}, {"s": 122, "hi": 0.0035, "lo": -0.0035},
      {"s": 123, "hi": 0.005, "lo": -0.0048}, {"s": 124, "hi": 0.0038, "lo": -0.0038}, {"s": 125, "hi": 0.005, "lo": -0.0048},
      {"s": 126, "hi": 0.006, "lo": -0.0055}, {"s": 126.8, "hi": 0.004, "lo": -0.004}, {"s": 127.5, "hi": 0.008, "lo": -0.007},
      {"s": 128.2, "hi": 0.0045, "lo": -0.0045}, {"s": 129, "hi": 0.0055, "lo": -0.005}, {"s": 130, "hi": 0.0032, "lo": -0.0032},
      {"s": 131.5, "hi": 0.003, "lo": -0.003}, {"s": 135, "hi": 0.0024, "lo": -0.0022}, {"s": 140, "hi": 0.002, "lo": -0.0018},
      {"s": 145, "hi": 0.0022, "lo": -0.0018}, {"s": 150, "hi": 0.0018, "lo": -0.0017}, {"s": 155, "hi": 0.002, "lo": -0.0018},
      {"s": 160, "hi": 0.0018, "lo": -0.0016}, {"s": 164, "hi": 0.0022, "lo": -0.0018}, {"s": 166, "hi": 0.0018, "lo": -0.0016}
    ]
  },
  "spacing": 0,
  "resolve": {"scale": {"x": "shared", "y": "independent"}},
  "config": {
    "font": "DejaVu Sans",
    "view": {"stroke": "#444444", "strokeWidth": 1},
    "axis": {
      "grid": false,
      "domain": false,
      "title": null,
      "tickColor": "#444444",
      "tickSize": 5,
      "labelColor": "#444444",
      "labelFont": "DejaVu Sans",
      "labelFontSize": 11.5,
      "labelPadding": 3,
      "labelOverlap": false,
      "labelSeparation": 0
    },
    "axisX": {"labelPadding": 5},
    "axisY": {"labelPadding": 5, "labelFlush": false}
  },
  "vconcat": [
    {
      "width": 680,
      "height": 216.5,
      "layer": [
        {
          "data": {"name": "hnz"},
          "mark": {"type": "area", "color": "#454545", "stroke": "#454545", "strokeWidth": 0.6, "clip": true},
          "encoding": {
            "x": {"field": "s", "type": "quantitative", "scale": {"domain": [0, 166], "nice": false, "zero": false}, "axis": null},
            "y": {"field": "hi", "type": "quantitative", "scale": {"domain": [-0.1719, 0.1568], "nice": false, "zero": false},
                  "axis": {"values": [-0.15, -0.1, -0.05, 0, 0.05, 0.1, 0.15], "format": ".2f", "labelOverlap": false, "minExtent": 44, "maxExtent": 44}},
            "y2": {"field": "lo"}
          }
        },
        {
          "data": {"values": [{"label": "C1.V12A..HNZ"}]},
          "mark": {"type": "rect", "fill": "white", "stroke": "#777777", "strokeWidth": 1, "cornerRadius": 3},
          "encoding": {
            "x": {"datum": 2.4, "axis": null}, "x2": {"datum": 23.8},
            "y": {"datum": 0.147, "axis": {"values": [-0.15, -0.1, -0.05, 0, 0.05, 0.1, 0.15], "format": ".2f", "labelOverlap": false, "minExtent": 44, "maxExtent": 44}},
            "y2": {"datum": 0.118}
          }
        },
        {
          "data": {"values": [{"label": "C1.V12A..HNZ"}]},
          "mark": {"type": "text", "font": "DejaVu Sans", "fontSize": 11, "color": "#444444", "align": "center", "baseline": "middle"},
          "encoding": {
            "x": {"datum": 13.1, "axis": null},
            "y": {"datum": 0.1325, "axis": {"values": [-0.15, -0.1, -0.05, 0, 0.05, 0.1, 0.15], "format": ".2f", "labelOverlap": false, "minExtent": 44, "maxExtent": 44}},
            "text": {"field": "label"}
          }
        }
      ]
    },
    {
      "width": 680,
      "height": 216.5,
      "layer": [
        {
          "data": {"name": "hnn"},
          "mark": {"type": "area", "color": "#454545", "stroke": "#454545", "strokeWidth": 0.6, "clip": true},
          "encoding": {
            "x": {"field": "s", "type": "quantitative", "scale": {"domain": [0, 166], "nice": false, "zero": false}, "axis": null},
            "y": {"field": "hi", "type": "quantitative", "scale": {"domain": [-0.1586, 0.1678], "nice": false, "zero": false},
                  "axis": {"values": [-0.15, -0.1, -0.05, 0, 0.05, 0.1, 0.15], "format": ".2f", "labelOverlap": false, "minExtent": 44, "maxExtent": 44}},
            "y2": {"field": "lo"}
          }
        },
        {
          "data": {"values": [{"label": "C1.V12A..HNN"}]},
          "mark": {"type": "rect", "fill": "white", "stroke": "#777777", "strokeWidth": 1, "cornerRadius": 3},
          "encoding": {
            "x": {"datum": 2.4, "axis": null}, "x2": {"datum": 23.8},
            "y": {"datum": 0.157, "axis": {"values": [-0.15, -0.1, -0.05, 0, 0.05, 0.1, 0.15], "format": ".2f", "labelOverlap": false, "minExtent": 44, "maxExtent": 44}},
            "y2": {"datum": 0.1285}
          }
        },
        {
          "data": {"values": [{"label": "C1.V12A..HNN"}]},
          "mark": {"type": "text", "font": "DejaVu Sans", "fontSize": 11, "color": "#444444", "align": "center", "baseline": "middle"},
          "encoding": {
            "x": {"datum": 13.1, "axis": null},
            "y": {"datum": 0.1428, "axis": {"values": [-0.15, -0.1, -0.05, 0, 0.05, 0.1, 0.15], "format": ".2f", "labelOverlap": false, "minExtent": 44, "maxExtent": 44}},
            "text": {"field": "label"}
          }
        }
      ]
    },
    {
      "width": 680,
      "height": 216.5,
      "layer": [
        {
          "data": {"name": "hne"},
          "mark": {"type": "area", "color": "#454545", "stroke": "#454545", "strokeWidth": 0.6, "clip": true},
          "encoding": {
            "x": {"field": "s", "type": "quantitative", "scale": {"domain": [0, 166], "nice": false, "zero": false},
                  "axis": {"values": [6, 36, 66, 96, 126, 156], "labelExpr": "['2021-02-10T20:18:00', '20:18:30', '20:19:00', '20:19:30', '20:20:00', '20:20:30'][round((datum.value - 6) / 30)]"}},
            "y": {"field": "hi", "type": "quantitative", "scale": {"domain": [-0.151, 0.1794], "nice": false, "zero": false},
                  "axis": {"values": [-0.15, -0.1, -0.05, 0, 0.05, 0.1, 0.15], "format": ".2f", "labelOverlap": false, "minExtent": 44, "maxExtent": 44}},
            "y2": {"field": "lo"}
          }
        },
        {
          "data": {"values": [{"label": "C1.V12A..HNE"}]},
          "mark": {"type": "rect", "fill": "white", "stroke": "#777777", "strokeWidth": 1, "cornerRadius": 3},
          "encoding": {
            "x": {"datum": 2.4}, "x2": {"datum": 23.8},
            "y": {"datum": 0.169, "axis": {"values": [-0.15, -0.1, -0.05, 0, 0.05, 0.1, 0.15], "format": ".2f", "labelOverlap": false, "minExtent": 44, "maxExtent": 44}},
            "y2": {"datum": 0.14}
          }
        },
        {
          "data": {"values": [{"label": "C1.V12A..HNE"}]},
          "mark": {"type": "text", "font": "DejaVu Sans", "fontSize": 11, "color": "#444444", "align": "center", "baseline": "middle"},
          "encoding": {
            "x": {"datum": 13.1},
            "y": {"datum": 0.1545, "axis": {"values": [-0.15, -0.1, -0.05, 0, 0.05, 0.1, 0.15], "format": ".2f", "labelOverlap": false, "minExtent": 44, "maxExtent": 44}},
            "text": {"field": "label"}
          }
        }
      ]
    }
  ]
}
